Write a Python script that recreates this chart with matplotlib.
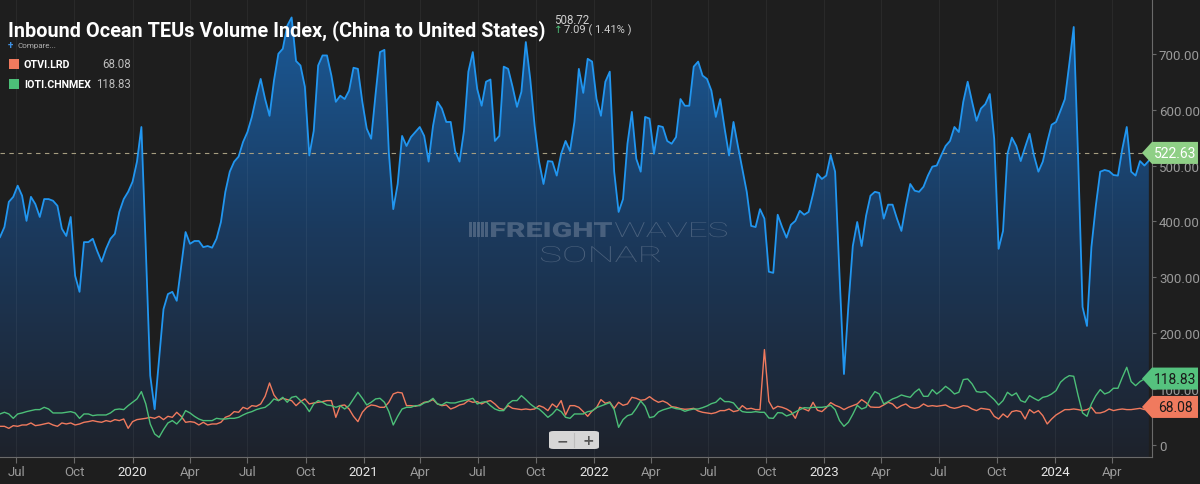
import numpy as np
import pandas as pd
import matplotlib
matplotlib.use("Agg")
import matplotlib.pyplot as plt
import matplotlib.dates as mdates
from matplotlib.colors import LinearSegmentedColormap
from matplotlib.patches import Polygon, FancyBboxPatch, Rectangle, PathPatch
from matplotlib.transforms import blended_transform_factory, Affine2D
from matplotlib.textpath import TextPath
from matplotlib.font_manager import FontProperties

plt.rcParams['font.family'] = ['Roboto', 'DejaVu Sans']

# weekly values
teus = [372, 390, 435, 444, 464, 446, 401, 444, 431, 408,
        440, 440, 437, 428, 387, 374, 408, 303, 274, 363,
        363, 369, 347, 328, 351, 369, 378, 417, 440, 453,
        471, 507, 569, 350, 124, 64, 154, 243, 270, 274,
        258, 320, 381, 360, 365, 365, 354, 356, 353, 369,
        399, 453, 489, 507, 516, 542, 560, 587, 623, 655,
        619, 589, 652, 700, 709, 750, 765,
        687, 679, 641, 518, 562, 679, 697, 697, 661, 614,
        625, 619, 634, 675, 673, 614, 566, 548, 628, 703,
        707, 524, 422, 467, 553, 535, 551, 560, 569, 553,
        507, 571, 614, 602, 578, 578, 526, 507, 562, 668,
        703, 637, 607, 650, 654, 544, 553, 677, 673, 641,
        605, 632, 721, 655, 571, 507, 467, 508, 507, 482,
        521, 544, 526, 578, 673, 630, 691,
        686, 619, 589, 650, 668, 489, 417, 440, 539, 596,
        512, 489, 587, 584, 521, 571, 569, 544, 539, 551,
        619, 607, 607, 677, 686, 661, 655, 634, 587, 619,
        566, 518, 578, 535, 494, 453, 392, 390, 422, 405,
        310, 308, 412, 390, 371, 394, 401, 419, 412, 417,
        449, 485, 476, 482, 519, 489, 303, 127, 249, 356,
        399, 356, 410, 446, 453, 451,
        405, 430, 430, 405, 383, 428, 467, 455, 453, 462,
        482, 498, 500, 518, 535, 544, 569, 560, 614, 650,
        614, 580, 602, 610, 628, 548, 351, 383, 521, 550,
        535, 508, 533, 557, 518, 489, 507, 542, 573, 578,
        598, 619, 682, 748, 512, 247, 213, 354, 428, 489,
        492, 490, 483, 482, 530, 569, 489, 482, 508, 500,
        508.72]

otvi_lrd = [33.4, 33.4, 29.8, 34.6, 33.4, 35.8, 35.8, 39.4, 34.6, 35.8,
            37.6, 39.4, 35.8, 33.4, 39.4, 37.6, 39.4, 35.8, 37.6, 40.6,
            41.8, 43.6, 41.8, 40.6, 43.6, 41.8, 45.4, 43.6, 46.5, 29.8,
            41.8, 45.4, 46.5, 47.7, 49.5, 47.7, 51.3, 45.4, 51.3, 49.5,
            58.5, 51.3, 40.6, 41.8, 40.6, 35.8, 40.6, 35.8, 37.6, 37.6,
            40.6, 49.5, 52.5, 59.7, 58.5, 67.4, 64.4, 70.4, 69.2, 73.4,
            87.1, 111, 89.5, 79.4, 83.5, 81.2, 79.4,
            70.4, 77.6, 82.4, 73.4, 75.2, 76.4, 77.6, 79.4, 79.4, 49.5,
            70.4, 71.6, 64.4, 51.3, 41.8, 58.5, 67.4, 71.6, 70.4, 67.4,
            67.4, 76.4, 91.3, 94.3, 93.1, 70.4, 70.4, 69.2, 71.6, 76.4,
            77.6, 81.2, 73.4, 70.4, 71.6, 64.4, 67.4, 71.6, 73.4, 79.4,
            76.4, 77.6, 73.4, 77.6, 79.4, 73.4, 65.6, 63.3, 70.4, 65.6,
            64.4, 63.3, 64.4, 63.3, 64.4, 70.4, 67.4, 61.5, 73.4, 67.4,
            79.4, 53.7, 70.4, 70.4, 67.4, 59.7, 51.3,
            60.9, 66.8, 81.2, 74.6, 77.0, 65.6, 76.4, 71.0, 73.4, 85.3,
            83.5, 80.0, 81.2, 86.5, 80.6, 76.4, 78.8, 75.2, 68.6, 67.4,
            65.0, 63.9, 64.4, 65.6, 60.9, 58.5, 57.3, 56.1, 57.9, 61.5,
            61.5, 64.4, 59.7, 61.5, 70.4, 64.4, 65.6, 63.3, 63.3, 170.7,
            78.2, 64.4, 69.2, 67.4, 64.4, 59.7, 47.7, 67.4, 64.4, 60.9,
            76.4, 62.1, 59.7, 66.8, 75.8, 71.0, 68.0, 63.3, 67.4, 70.4,
            73.4, 81.2, 75.8, 68.0, 67.4, 67.4,
            71.6, 76.4, 73.4, 65.6, 70.4, 73.4, 67.4, 65.6, 67.4, 73.4,
            69.2, 70.4, 69.2, 70.4, 71.6, 67.4, 65.6, 67.4, 70.4, 69.2,
            64.4, 61.5, 65.6, 64.4, 63.3, 51.3, 46.5, 55.5, 49.5, 59.7,
            61.5, 59.7, 46.5, 63.3, 57.3, 61.5, 52.5, 37.6, 46.5, 53.7,
            58.5, 63.3, 63.3, 64.4, 63.3, 61.5, 63.3, 67.4, 57.3, 57.3,
            59.7, 64.4, 61.5, 63.3, 64.4, 63.3, 63.3, 64.4, 65.6, 63.3,
            68.08]

ioti_chnmex = [55.5, 58.5, 55.5, 47.7, 55.5, 57.3, 59.7, 61.5, 63.3, 63.3,
               67.4, 64.4, 57.3, 57.3, 57.3, 58.5, 59.7, 57.3, 47.7, 55.5,
               55.5, 52.5, 53.7, 53.7, 53.7, 57.3, 63.3, 64.4, 63.3, 70.4,
               76.4, 82.4, 95.5, 73.4, 37.6, 19.7, 13.7, 27.5, 39.4, 43.6,
               37.6, 46.5, 61.5, 57.3, 51.3, 46.5, 43.6, 43.6, 43.6, 47.7,
               46.5, 46.5, 47.7, 47.7, 49.5, 53.7, 57.3, 59.7, 63.3, 65.6,
               67.4, 73.4, 82.4, 79.4, 85.3, 76.4, 85.3,
               87.1, 79.4, 71.6, 59.7, 73.4, 79.4, 76.4, 71.6, 70.4, 67.4,
               70.4, 64.4, 70.4, 82.4, 94.3, 83.5, 71.6, 76.4, 82.4, 83.5,
               76.4, 59.7, 35.8, 51.3, 64.4, 67.4, 67.4, 70.4, 70.4, 75.2,
               77.6, 83.5, 73.4, 71.6, 76.4, 75.2, 75.2, 77.6, 79.4, 81.2,
               83.5, 73.4, 76.4, 77.6, 70.4, 64.4, 61.5, 61.5, 73.4, 79.4,
               79.4, 88.3, 81.2, 73.4, 67.4, 64.4, 57.3, 49.5, 55.5, 64.4,
               59.7, 49.5, 47.7, 55.5, 55.5, 55.5, 59.7,
               60.9, 66.8, 69.8, 72.8, 75.8, 63.3, 31.6, 45.4, 52.5, 54.9,
               65.6, 78.8, 69.2, 48.9, 50.7, 59.1, 62.7, 65.0, 67.4, 65.0,
               63.9, 60.3, 62.7, 64.4, 64.4, 66.8, 69.8, 74.0, 76.4, 84.1,
               77.6, 77.6, 75.2, 65.6, 59.7, 58.5, 58.5, 59.7, 58.5, 58.5,
               48.3, 47.7, 57.9, 57.3, 51.9, 54.9, 59.1, 63.3, 66.8, 66.2,
               67.4, 67.4, 67.4, 68.6, 71.0, 63.3, 43.6, 33.4, 40.6, 54.9,
               71.0, 64.4, 67.4, 84.1, 95.5, 91.3,
               73.4, 77.6, 82.4, 85.3, 89.5, 87.1, 85.3, 94.3, 100.3, 87.1,
               87.1, 99.1, 91.3, 97.3, 105.0, 99.1, 91.3, 94.3, 117.0, 118.2,
               109.2, 95.5, 94.3, 95.5, 88.3, 81.2, 71.6, 79.4, 94.3, 88.3,
               93.1, 79.4, 76.4, 88.3, 83.5, 79.4, 85.3, 87.1, 91.3, 97.3,
               112.2, 119.4, 124.1, 122.9, 88.3, 57.3, 51.3, 73.4, 88.3, 99.1,
               91.3, 94.3, 101.5, 101.5, 121.1, 139.0, 113.4, 106.2, 113.4, 118.2,
               118.83]

dates = pd.date_range(end='2024-05-29', periods=len(teus), freq='7D')
price_line = 522.63

BG = '#1e1e1e'
BLUE = '#2196f0'
RED = '#f07a5e'
GREEN = '#4cbf78'
H = 485.0

fig = plt.figure(figsize=(12, 4.85), dpi=100, facecolor=BG)
ax = fig.add_axes([0, 27 / 485, 1152 / 1200, 458 / 485], facecolor=BG)

ybot, ytop = -21.5, 798
x0 = mdates.date2num(pd.Timestamp('2019-06-05'))
x1 = mdates.date2num(pd.Timestamp('2024-06-03'))
xd = mdates.date2num(dates)

# gradient fill below the blue line
poly = ax.fill_between(xd, teus, ybot, color='none', lw=0)
cmap = LinearSegmentedColormap.from_list('teus', ['#1e222b', '#1b3a5e', '#1a5c9c'])
grad = np.linspace(0, 1, 256).reshape(-1, 1)
im = ax.imshow(grad, cmap=cmap, aspect='auto', origin='lower',
               extent=[x0, x1, ybot, ytop], zorder=1)
im.set_clip_path(poly.get_paths()[0], transform=ax.transData)

# watermark (stretched text, placed in pixels)
wm = '#8a98ac'
def stretched(txt, xl, xr, ybase, cap, weight):
    tp = TextPath((0, 0), txt, size=cap / 0.72,
                  prop=FontProperties(family='Roboto', weight=weight))
    ext = tp.get_extents()
    t = Affine2D().translate(-ext.x0, 0).scale((xr - xl) / ext.width, 1).translate(xl, H - ybase)
    ax.add_patch(PathPatch(tp, transform=t, facecolor=wm, edgecolor='none',
                           alpha=0.42, zorder=2))

stretched('FREIGHT', 491, 612, 238, 15, 'heavy')
stretched('WAVES', 615, 727, 238, 15, 'light')
stretched('SONAR', 541, 660, 263, 16, 'light')
for k in range(5):
    ax.add_patch(Rectangle(((469 + 4 * k) / 1152, (458 - 238) / 458), 2.5 / 1152, 15 / 458,
                           transform=ax.transAxes, facecolor=wm, alpha=0.42,
                           edgecolor='none', zorder=2))

ax.plot(xd, teus, color=BLUE, lw=1.3, zorder=5)
ax.plot(xd, otvi_lrd, color=RED, lw=1.0, zorder=4)
ax.plot(xd, ioti_chnmex, color=GREEN, lw=1.0, zorder=4)
ax.axhline(price_line, color='#a59d80', lw=0.8, ls=(0, (4, 4)), zorder=3)

ax.set_xlim(x0, x1)
ax.set_ylim(ybot, ytop)

# axes styling
for s in ['top', 'left']:
    ax.spines[s].set_visible(False)
ax.spines['right'].set_color('#6a6a6a')
ax.spines['bottom'].set_color('#6a6a6a')
ax.yaxis.tick_right()
yt = [0, 100, 200, 300, 400, 500, 600, 700]
ax.set_yticks(yt)
ax.set_yticklabels(['0'] + ['%.2f' % v for v in yt[1:]])
ax.tick_params(axis='y', colors='#6a6a6a', labelcolor='#9a9a9a', labelsize=9.5,
               length=3, pad=2)

xt = pd.date_range('2019-07-01', '2024-04-01', freq='QS-JAN')
ax.set_xticks(mdates.date2num(xt))
ax.set_xticklabels([str(d.year) if d.month == 1 else d.strftime('%b') for d in xt])
ax.tick_params(axis='x', colors='#6a6a6a', labelcolor='#9a9a9a', labelsize=9.5,
               length=4, pad=2)
for lab, d in zip(ax.get_xticklabels(), xt):
    if d.month == 1:
        lab.set_color('#e6e6e6')
ax.grid(axis='x', color='#ffffff', alpha=0.05, lw=0.8)

# value tags on the right
tr = blended_transform_factory(ax.transAxes, ax.transData)
hh = 11 / (458 / (ytop - ybot))
def tag(v, txt, face, tcol):
    pts = [(1142 / 1152, v), (1152 / 1152, v + hh), (1198 / 1152, v + hh),
           (1198 / 1152, v - hh), (1152 / 1152, v - hh)]
    ax.add_patch(Polygon(pts, closed=True, transform=tr, facecolor=face,
                         edgecolor='none', clip_on=False, zorder=10))
    ax.text(1175 / 1152, v, txt, transform=tr, ha='center', va='center',
            fontsize=10, color=tcol, clip_on=False, zorder=11)

tag(price_line, '%.2f' % price_line, '#8fcf86', '#ffffff')
tag(ioti_chnmex[-1], '%.2f' % ioti_chnmex[-1], '#55c27e', '#1a1a1a')
tag(otvi_lrd[-1], '%.2f' % otvi_lrd[-1], '#f07a5e', '#1a1a1a')

# header
fig.text(8 / 1200, 1 - 36 / H, 'Inbound Ocean TEUs Volume Index, (China to United States)',
         fontsize=14.3, fontweight='bold', color='white', va='baseline')
fig.text(554 / 1200, 1 - 20 / H, '508.72', fontsize=8.3, color='#cfcfcf', va='center')
fig.text(554 / 1200, 1 - 30 / H, '\u2191', fontsize=7.5, color='#4cbf78', va='center',
         family=['DejaVu Sans'])
fig.text(564 / 1200, 1 - 30 / H, '7.09 ( 1.41% )', fontsize=8, color='#cfcfcf', va='center')
fig.text(8 / 1200, 1 - 46 / H, '+', fontsize=7, color='#3d8fe0', va='center', fontweight='bold')
fig.text(18 / 1200, 1 - 46 / H, 'Compare...', fontsize=5.8, color='#b0b0b0', va='center')

legend = [('OTVI.LRD', '%.2f' % otvi_lrd[-1], RED, 65),
          ('IOTI.CHNMEX', '%.2f' % ioti_chnmex[-1], GREEN, 85)]
for name, val, col, yy in legend:
    fig.patches.append(Rectangle((9 / 1200, 1 - (yy + 5) / H), 10 / 1200, 10 / H,
                                 transform=fig.transFigure, facecolor=col, edgecolor='none'))
    fig.text(24 / 1200, 1 - yy / H, name, fontsize=7.7, fontweight='bold', color='white', va='center')
    fig.text(131 / 1200, 1 - yy / H, val, fontsize=8.3, color='#bdbdbd', va='center', ha='right')

# zoom buttons
fig.patches.append(FancyBboxPatch((549 / 1200, 1 - 450 / H), 50 / 1200, 18 / H,
                                  boxstyle='round,pad=0,rounding_size=0.004',
                                  transform=fig.transFigure, facecolor='#d6d6d6',
                                  edgecolor='none'))
fig.lines.append(plt.Line2D([574 / 1200, 574 / 1200], [1 - 448 / H, 1 - 434 / H],
                            transform=fig.transFigure, color='#bdbdbd', lw=0.8))
fig.text(562 / 1200, 1 - 441 / H, '\u2212', fontsize=10, color='#555555', ha='center',
         va='center', fontweight='bold', family=['DejaVu Sans'])
fig.text(588 / 1200, 1 - 441 / H, '+', fontsize=10, color='#555555', ha='center',
         va='center', fontweight='bold', family=['DejaVu Sans'])

fig.savefig('out.png', dpi=100, facecolor=BG)
